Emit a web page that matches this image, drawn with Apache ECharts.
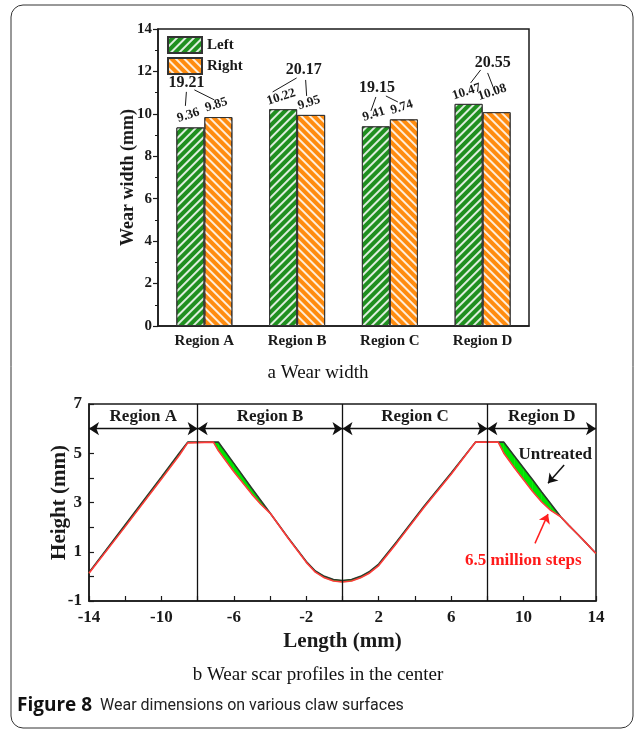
<!DOCTYPE html>
<html lang="en">
<head>
<meta charset="utf-8">
<title>Wear dimensions on various claw surfaces</title>
<style>html,body{margin:0;padding:0;background:#fff;}</style>
</head>
<body>
<div id="main" style="width:635px;height:731px;"></div>
<script src="https://cdn.jsdelivr.net/npm/echarts@6/dist/echarts.min.js"></script>
<script>
var chart = echarts.init(document.getElementById('main'));

// (a) wear width
var regions = ['Region A', 'Region B', 'Region C', 'Region D'];
var leftWidth = [9.36, 10.22, 9.41, 10.47];
var rightWidth = [9.85, 9.95, 9.74, 10.08];
var totalWidth = [19.21, 20.17, 19.15, 20.55];

// (b) wear scar profiles, sampled at the same lengths
var lengthMm = [-14, -12, -10, -9, -8.55, -7.13, -6.85, -6, -5, -4.5, -3.99, -3, -2, -1.5, -1, -0.5, 0, 0.5, 1, 1.5,
                2, 3, 4.5, 6, 7.34, 8.6, 8.91, 9.5, 10, 10.5, 11, 11.5, 12.05, 12.5, 13, 13.5, 14];
var untreated = [0.16, 2.1, 4.04, 5.02, 5.45, 5.45, 5.45, 4.59, 3.57, 3.07, 2.56, 1.57, 0.6, 0.22, 0.0, -0.13, -0.17, -0.13, 0.0, 0.2,
                 0.5, 1.42, 2.85, 4.2, 5.45, 5.45, 5.45, 4.88, 4.4, 3.92, 3.43, 2.95, 2.42, 2.07, 1.7, 1.32, 0.93];
var treated = [0.13, 2.02, 3.95, 4.93, 5.42, 5.45, 5.1, 4.25, 3.33, 2.92, 2.56, 1.55, 0.57, 0.17, -0.06, -0.19, -0.23, -0.19, -0.06, 0.14,
               0.44, 1.36, 2.8, 4.15, 5.45, 5.45, 5.0, 4.4, 3.92, 3.45, 3.02, 2.68, 2.42, 2.07, 1.7, 1.32, 0.93];
var regionBounds = [-14, -8, 0, 8, 14];
var regionArrowY = 6;

var serif = 'Liberation Serif';
var ink = '#1a1a1a';

function stripes(rot) {
    return {
        symbol: 'rect', symbolSize: 1,
        dashArrayX: [1, 0], dashArrayY: [1.3, 3.7],
        rotation: rot, color: 'rgba(255,255,255,0.85)'
    };
}

// label tweaks for the rotated small value labels
var rightLabelOffset = [[0, 0], [0, 0], [0, 0], [0, -8]];

function axisFont(size) {
    return { color: ink, fontFamily: serif, fontWeight: 'bold', fontSize: size };
}

var option = {
    animation: false,
    backgroundColor: '#fff',
    grid: [
        { left: 158, top: 29, width: 371, height: 297, show: true, borderColor: ink, borderWidth: 1.5 },
        { left: 89, top: 404, width: 507, height: 197, show: true, borderColor: ink, borderWidth: 1.5 }
    ],
    legend: {
        left: 167, top: 36, orient: 'vertical', padding: 0,
        icon: 'rect', itemWidth: 34, itemHeight: 16, itemGap: 3,
        data: ['Left', 'Right'],
        textStyle: axisFont(15)
    },
    xAxis: [{
        gridIndex: 0, type: 'category', data: regions,
        axisLine: { lineStyle: { color: ink, width: 1.5 } },
        axisTick: { show: false },
        axisLabel: Object.assign({ margin: 8 }, axisFont(15))
    }, {
        gridIndex: 1, type: 'value', min: -14, max: 14, interval: 4,
        name: 'Length (mm)', nameLocation: 'middle', nameGap: 30, nameMoveOverlap: false,
        nameTextStyle: axisFont(21),
        axisLine: { onZero: false, lineStyle: { color: ink, width: 1.5 } },
        axisTick: { inside: true, length: 5, lineStyle: { color: ink, width: 1.2 } },
        minorTick: { show: true, splitNumber: 2, length: 5, lineStyle: { color: ink, width: 1.2 } },
        splitLine: { show: false },
        axisLabel: Object.assign({ margin: 8 }, axisFont(17))
    }],
    yAxis: [{
        gridIndex: 0, type: 'value', min: 0, max: 14, interval: 2,
        name: 'Wear width (mm)', nameLocation: 'middle', nameGap: 21, nameMoveOverlap: false,
        nameTextStyle: axisFont(18),
        axisLine: { show: true, onZero: false, lineStyle: { color: ink, width: 1.5 } },
        axisTick: { show: true, length: 5, lineStyle: { color: ink, width: 1.2 } },
        minorTick: { show: true, splitNumber: 2, length: 3, lineStyle: { color: ink } },
        splitLine: { show: false },
        axisLabel: Object.assign({ margin: 6 }, axisFont(15))
    }, {
        gridIndex: 1, type: 'value', min: -1, max: 7, interval: 2,
        name: 'Height (mm)', nameLocation: 'middle', nameGap: 19, nameMoveOverlap: false,
        nameTextStyle: axisFont(21),
        axisLine: { show: true, onZero: false, lineStyle: { color: ink, width: 1.5 } },
        axisTick: { inside: true, length: 5, lineStyle: { color: ink, width: 1.2 } },
        minorTick: { show: true, splitNumber: 2, length: 5, lineStyle: { color: ink, width: 1.2 } },
        splitLine: { show: false },
        axisLabel: Object.assign({ margin: 7 }, axisFont(17))
    }],
    series: [{
        name: 'Left', type: 'bar', xAxisIndex: 0, yAxisIndex: 0,
        barWidth: 28, barGap: '0%',
        itemStyle: { color: '#1f8f1f', borderColor: '#333', borderWidth: 1, decal: stripes(-Math.PI / 4) },
        label: Object.assign({ show: true, position: 'top', rotate: 18, distance: 6 }, axisFont(13)),
        data: leftWidth
    }, {
        name: 'Right', type: 'bar', xAxisIndex: 0, yAxisIndex: 0,
        barWidth: 28,
        itemStyle: { color: '#ff8c0f', borderColor: '#333', borderWidth: 1, decal: stripes(Math.PI / 4) },
        label: Object.assign({ show: true, position: 'top', rotate: 18, distance: 6 }, axisFont(13)),
        data: rightWidth.map(function (v, i) {
            return { value: v, label: { offset: rightLabelOffset[i] } };
        })
    }, {
        name: 'wear', type: 'custom', xAxisIndex: 1, yAxisIndex: 1, silent: true, z: 2,
        data: lengthMm.map(function (x, i) { return [x, untreated[i], treated[i]]; }),
        encode: { x: 0, y: [1, 2] },
        renderItem: function (params, api) {
            var i = params.dataIndex;
            if (i >= lengthMm.length - 1) return;
            return {
                type: 'polygon',
                shape: { points: [
                    api.coord([lengthMm[i], untreated[i]]),
                    api.coord([lengthMm[i + 1], untreated[i + 1]]),
                    api.coord([lengthMm[i + 1], treated[i + 1]]),
                    api.coord([lengthMm[i], treated[i]])
                ] },
                style: { fill: '#00e400', stroke: '#00e400', lineWidth: 0.5 }
            };
        },
        markLine: {
            silent: true, symbol: ['none', 'arrow'], symbolSize: 9,
            label: { show: false },
            data: [
                [{ coord: [12.24, 4.52], lineStyle: { color: '#111', width: 1.5, type: 'solid' } }, { coord: [11.35, 3.78] }],
                [{ coord: [10.63, 1.34], lineStyle: { color: '#ff2020', width: 1.5, type: 'solid' } }, { coord: [11.35, 2.53] }]
            ]
        },
        markPoint: {
            silent: true, symbol: 'circle', symbolSize: 0,
            data: [
                { coord: [11.75, 4.93], label: Object.assign({ show: true, position: 'inside', formatter: 'Untreated' }, axisFont(17)) },
                { coord: [9.98, 0.66], label: Object.assign({ show: true, position: 'inside', formatter: '6.5 million steps' }, axisFont(17), { color: '#ff1a1a' }) }
            ]
        }
    }, {
        name: 'Untreated', type: 'line', xAxisIndex: 1, yAxisIndex: 1, z: 3,
        showSymbol: false, symbol: 'none',
        lineStyle: { color: '#2c3a2c', width: 1.6 },
        data: lengthMm.map(function (x, i) { return [x, untreated[i]]; }),
        markLine: {
            silent: true, symbol: ['arrow', 'arrow'], symbolSize: 10,
            lineStyle: { color: '#111', width: 1.3, type: 'solid' },
            label: Object.assign({ show: true, position: 'middle', formatter: '{b}', distance: 4 }, axisFont(17)),
            data: regions.map(function (r, i) {
                return [{ name: r, coord: [regionBounds[i], regionArrowY] }, { coord: [regionBounds[i + 1], regionArrowY] }];
            })
        }
    }, {
        name: '6.5 million steps', type: 'line', xAxisIndex: 1, yAxisIndex: 1, z: 4,
        showSymbol: false, symbol: 'none',
        lineStyle: { color: '#ff3a3a', width: 1.6 },
        data: lengthMm.map(function (x, i) { return [x, treated[i]]; }),
        markLine: {
            silent: true, symbol: 'none',
            lineStyle: { color: '#111', width: 1.3, type: 'solid' },
            label: { show: false },
            data: regionBounds.slice(1, 4).map(function (b) { return { xAxis: b }; })
        }
    }]
};
chart.setOption(option);

// total-width callouts above each pair of bars (text offset / connector lines in px from the text centre)
var sumLayout = [
    { dx: -18, y: 11.46, l1: [0, 9, -1, 23], l2: [8, 7, 28, 17] },
    { dx: 6.5, y: 12.07, l1: [-7, 8, -31, 22], l2: [2, 10, 3, 26] },
    { dx: -13, y: 11.22, l1: [-1, 9, -6, 23], l2: [9, 8, 21, 14] },
    { dx: 10, y: 12.40, l1: [-12, 7, -22, 20], l2: [-5, 10, 2, 28] }
];

var graphics = [];
regions.forEach(function (r, i) {
    var p = chart.convertToPixel({ xAxisIndex: 0, yAxisIndex: 0 }, [i, sumLayout[i].y]);
    var cx = p[0] + sumLayout[i].dx, cy = p[1];
    graphics.push({
        type: 'text', x: cx, y: cy, z: 10,
        style: { text: totalWidth[i].toFixed(2), fill: ink, font: 'bold 16px "Liberation Serif"', textAlign: 'center', textVerticalAlign: 'middle' }
    });
    [sumLayout[i].l1, sumLayout[i].l2].forEach(function (l) {
        graphics.push({
            type: 'line', z: 10,
            shape: { x1: cx + l[0], y1: cy + l[1], x2: cx + l[2], y2: cy + l[3] },
            style: { stroke: ink, lineWidth: 1 }
        });
    });
});

graphics.push(
    { type: 'text', x: 318, y: 373, style: { text: 'a Wear width', fill: '#111', font: '19px "Liberation Serif"', textAlign: 'center', textVerticalAlign: 'middle' } },
    { type: 'text', x: 318, y: 675, style: { text: 'b Wear scar profiles in the center', fill: '#111', font: '19px "Liberation Serif"', textAlign: 'center', textVerticalAlign: 'middle' } },
    { type: 'text', x: 17, y: 706, style: {
        text: '{b|Figure 8}  {r|Wear dimensions on various claw surfaces}',
        fill: '#111', font: '16px Roboto', textVerticalAlign: 'middle',
        rich: {
            b: { fontWeight: 'bold', fontSize: 19, fontFamily: 'Open Sans', fill: '#111' },
            r: { fontSize: 16, fontFamily: 'Roboto', fill: '#222' }
        }
    } },
    { type: 'rect', shape: { x: 11, y: 5, width: 622, height: 723, r: 12 }, style: { fill: 'none', stroke: '#333', lineWidth: 1 } }
);
chart.setOption({ graphic: graphics });
</script>
</body>
</html>
